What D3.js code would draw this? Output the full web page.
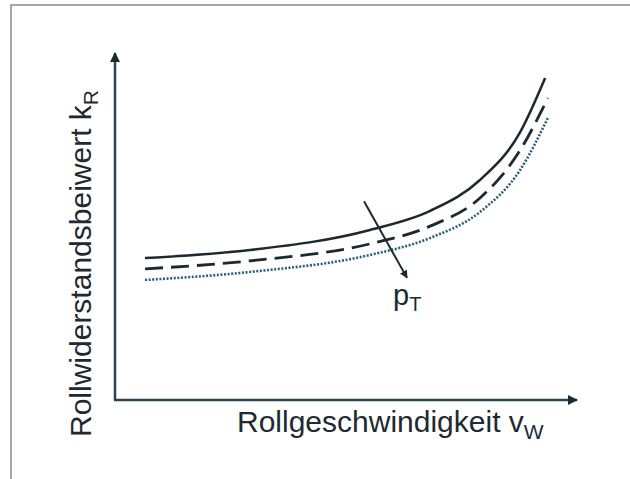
<!DOCTYPE html>
<html>
<head>
<meta charset="utf-8">
<script src="https://cdn.jsdelivr.net/npm/d3@7"></script>
<style>
  body { margin: 0; background: #fff; }
  text { font-family: "Liberation Sans", Arial, sans-serif; fill: #1e2a30; }
</style>
</head>
<body>
<div id="viz"></div>
<script>
// curve values (arbitrary units, 0..10 on both axes)
var xVals      = [0.65, 2.92, 5.52, 6.82, 7.90, 8.77, 9.31];
var highP      = [4.09, 4.32, 4.90, 5.45, 6.34, 7.72, 9.28];   // solid
var xValsMid   = [0.65, 2.92, 5.52, 6.82, 7.90, 8.77, 9.37];
var midP       = [3.78, 4.01, 4.50, 5.01, 5.82, 7.20, 8.70];   // dashed
var lowP       = [3.46, 3.69, 4.18, 4.67, 5.42, 6.63, 8.13];   // dotted
var arrowFrom  = [5.39, 5.73];
var arrowTo    = [6.32, 3.52];

var width = 630, height = 479;
var margin = {top: 53, right: 53, bottom: 79, left: 115};

var svg = d3.select("#viz")
    .append("svg")
    .attr("width", width)
    .attr("height", height);

// frame (top and left border of the scanned figure)
svg.append("path")
    .attr("d", "M11,479 L11,5 L630,5")
    .attr("fill", "none")
    .attr("stroke", "#8a8a8a")
    .attr("stroke-width", 1.5);

var x = d3.scaleLinear()
    .domain([0, 10])
    .range([margin.left, width - margin.right]);
var y = d3.scaleLinear()
    .domain([0, 10])
    .range([height - margin.bottom, margin.top]);

// arrow heads
var defs = svg.append("defs");
defs.append("marker")
    .attr("id", "head")
    .attr("viewBox", "0 0 10 10")
    .attr("refX", 9)
    .attr("refY", 5)
    .attr("markerWidth", 4)
    .attr("markerHeight", 4)
    .attr("markerUnits", "strokeWidth")
    .attr("orient", "auto")
    .append("path")
    .attr("d", "M0,0 L10,5 L0,10 z")
    .attr("fill", "#1e2a30");

// axes
var axisColor = "#2a4550";
svg.append("line")
    .attr("x1", x(0)).attr("y1", y(0))
    .attr("x2", x(0)).attr("y2", y(10))
    .attr("stroke", axisColor)
    .attr("stroke-width", 2.5)
    .attr("marker-end", "url(#head)");
svg.append("line")
    .attr("x1", x(0) - 1).attr("y1", y(0))
    .attr("x2", x(10)).attr("y2", y(0))
    .attr("stroke", axisColor)
    .attr("stroke-width", 2.5)
    .attr("marker-end", "url(#head)");

var line = d3.line()
    .curve(d3.curveMonotoneX)
    .x(function (d) { return x(d[0]); })
    .y(function (d) { return y(d[1]); });

function pairs(xs, ys) {
    return xs.map(function (v, i) { return [v, ys[i]]; });
}

var series = [
    {data: pairs(xVals, highP),    dash: null,    color: "#1c2a30", w: 2.5},
    {data: pairs(xValsMid, midP),  dash: "18,8",  color: "#1c2a30", w: 2.8},
    {data: pairs(xValsMid, lowP),  dash: "2,1.6", color: "#2a5f7a", w: 2.6}
];

svg.append("g")
    .selectAll("path")
    .data(series)
    .enter()
    .append("path")
    .attr("d", function (d) { return line(d.data); })
    .attr("fill", "none")
    .attr("stroke", function (d) { return d.color; })
    .attr("stroke-width", function (d) { return d.w; })
    .attr("stroke-dasharray", function (d) { return d.dash; });

// pressure arrow
svg.append("line")
    .attr("x1", x(arrowFrom[0])).attr("y1", y(arrowFrom[1]))
    .attr("x2", x(arrowTo[0])).attr("y2", y(arrowTo[1]))
    .attr("stroke", "#1e2a30")
    .attr("stroke-width", 2)
    .attr("marker-end", "url(#head)");

var pLabel = svg.append("text")
    .attr("x", 393)
    .attr("y", 305)
    .attr("font-size", 29);
pLabel.append("tspan").text("p");
pLabel.append("tspan")
    .attr("font-size", 20)
    .attr("dy", 6)
    .text("T");

// axis labels
var xLabel = svg.append("text")
    .attr("x", 237)
    .attr("y", 432)
    .attr("font-size", 30);
xLabel.append("tspan").text("Rollgeschwindigkeit v");
xLabel.append("tspan")
    .attr("font-size", 21)
    .attr("dy", 7)
    .text("W");

var yLabel = svg.append("text")
    .attr("transform", "translate(91,437) rotate(-90)")
    .attr("font-size", 30);
yLabel.append("tspan").text("Rollwiderstandsbeiwert k");
yLabel.append("tspan")
    .attr("font-size", 21)
    .attr("dy", 7)
    .text("R");
</script>
</body>
</html>
